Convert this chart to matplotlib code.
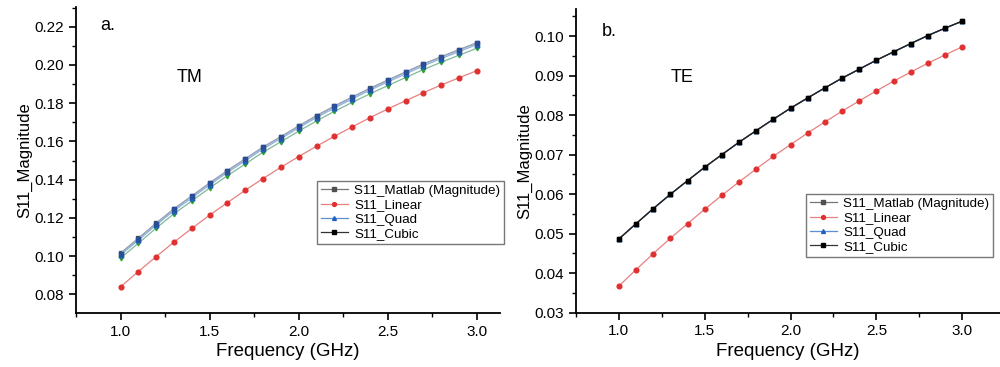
import matplotlib.pyplot as plt
from matplotlib.ticker import MultipleLocator, AutoMinorLocator

plt.rcParams['font.family'] = ['Liberation Sans', 'DejaVu Sans']

freq = [1.0, 1.1, 1.2, 1.3, 1.4, 1.5, 1.6, 1.7, 1.8, 1.9, 2.0,
        2.1, 2.2, 2.3, 2.4, 2.5, 2.6, 2.7, 2.8, 2.9, 3.0]

# TM (panel a)
tm_matlab = [0.1016, 0.1094, 0.1173, 0.1248, 0.1315, 0.1383, 0.1448, 0.1509, 0.1571, 0.1625, 0.1681,
             0.1735, 0.1785, 0.1832, 0.1878, 0.1921, 0.1963, 0.2005, 0.2043, 0.2080, 0.2116]
tm_linear = [0.0840, 0.0920, 0.0998, 0.1074, 0.1145, 0.1215, 0.1280, 0.1345, 0.1406, 0.1465, 0.1521,
             0.1575, 0.1627, 0.1676, 0.1724, 0.1770, 0.1813, 0.1855, 0.1895, 0.1933, 0.1970]
tm_quad = [0.1006, 0.1084, 0.1163, 0.1238, 0.1305, 0.1373, 0.1438, 0.1499, 0.1561, 0.1615, 0.1671,
           0.1725, 0.1775, 0.1822, 0.1868, 0.1911, 0.1953, 0.1995, 0.2033, 0.2070, 0.2106]
tm_cubic = [0.1014, 0.1092, 0.1171, 0.1246, 0.1314, 0.1381, 0.1446, 0.1508, 0.1569, 0.1624, 0.1679,
            0.1733, 0.1783, 0.1830, 0.1876, 0.1919, 0.1961, 0.2003, 0.2041, 0.2078, 0.2114]
tm_extra = [0.0990, 0.1068, 0.1147, 0.1222, 0.1289, 0.1357, 0.1421, 0.1482, 0.1544, 0.1598, 0.1654,
            0.1707, 0.1757, 0.1804, 0.1849, 0.1892, 0.1934, 0.1976, 0.2014, 0.2051, 0.2087]

# TE (panel b)
te_cubic = [0.04866, 0.05253, 0.05633, 0.05997, 0.06342, 0.06681, 0.07000, 0.07314, 0.07608, 0.07896, 0.08175,
            0.08435, 0.08689, 0.08934, 0.09162, 0.09390, 0.09600, 0.09810, 0.10013, 0.10200, 0.10377]
te_matlab = [0.04866, 0.05253, 0.05633, 0.05997, 0.06342, 0.06681, 0.07000, 0.07314, 0.07608, 0.07896, 0.08175,
             0.08435, 0.08689, 0.08934, 0.09162, 0.09390, 0.09600, 0.09810, 0.10013, 0.10200, 0.10377]
te_quad = [0.04866, 0.05253, 0.05633, 0.05997, 0.06342, 0.06681, 0.07000, 0.07314, 0.07608, 0.07896, 0.08175,
           0.08435, 0.08689, 0.08934, 0.09162, 0.09390, 0.09600, 0.09810, 0.10013, 0.10200, 0.10377]
te_linear = [0.03676, 0.04089, 0.04494, 0.04884, 0.05253, 0.05618, 0.05972, 0.06309, 0.06638, 0.06959, 0.07253,
             0.07549, 0.07828, 0.08099, 0.08359, 0.08613, 0.08858, 0.09086, 0.09314, 0.09524, 0.09727]

names = ['S11_Matlab (Magnitude)', 'S11_Linear', 'S11_Quad', 'S11_Cubic']

fig = plt.figure(figsize=(10, 3.67), dpi=100)
ax1 = fig.add_axes([0.076, 0.147, 0.424, 0.834])
ax2 = fig.add_axes([0.576, 0.148, 0.424, 0.827])


def style(ax):
    for s in ['top', 'right']:
        ax.spines[s].set_visible(False)
    for s in ['left', 'bottom']:
        ax.spines[s].set_linewidth(1.3)
    ax.xaxis.set_major_locator(MultipleLocator(0.5))
    ax.xaxis.set_minor_locator(AutoMinorLocator(2))
    ax.yaxis.set_minor_locator(AutoMinorLocator(2))
    ax.tick_params(which='major', direction='out', length=5, width=1.2, labelsize=11)
    ax.tick_params(which='minor', direction='out', length=3, width=1.0)
    ax.set_xlabel('Frequency (GHz)', fontsize=13.5, labelpad=3)
    ax.set_ylabel('S11_Magnitude', fontsize=12, labelpad=2)


mk = dict(markersize=3.4, linewidth=0.9)
mk_leg = dict(markersize=2.8, linewidth=0.9)

# panel a
ax1.plot(freq, tm_extra, color='#7fb89a', marker='v', mfc='#2ca02c', mec='#2ca02c', **mk)
ax1.plot(freq, tm_quad, color='#8fb3d9', marker='^', mfc='#1f5fbf', mec='#1f5fbf', **mk)
ax1.plot(freq, tm_matlab, color='#8a8a8a', marker='s', mfc='#505050', mec='#505050', **mk)
ax1.plot(freq, tm_cubic, color='#9aaccc', marker='s', mfc='#2a4f9a', mec='#2a4f9a', **mk)
ax1.plot(freq, tm_linear, color='#e88080', marker='o', mfc='#e03030', mec='#e03030', **mk)

# panel b
ax2.plot(freq, te_linear, color='#e88080', marker='o', mfc='#e03030', mec='#e03030', **mk)
ax2.plot(freq, te_quad, color='#1f5fbf', marker='^', mfc='#1f5fbf', mec='#1f5fbf', **mk)
ax2.plot(freq, te_matlab, color='#505050', marker='s', mfc='#505050', mec='#505050', **mk)
ax2.plot(freq, te_cubic, color='#222222', marker='s', mfc='black', mec='black', **mk)

legend_corner = {ax1: (317 / 1000, 1 - 244 / 367), ax2: (806 / 1000, 1 - 257 / 367)}

for ax in (ax1, ax2):
    style(ax)
    h = [plt.Line2D([], [], color='#777777', marker='s', mfc='#505050', mec='#505050', **mk_leg),
         plt.Line2D([], [], color='#e88080', marker='o', mfc='#e03030', mec='#e03030', **mk_leg),
         plt.Line2D([], [], color='#5a8fd0', marker='^', mfc='#1f5fbf', mec='#1f5fbf', **mk_leg),
         plt.Line2D([], [], color='#333333', marker='s', mfc='black', mec='black', **mk_leg)]
    leg = ax.legend(h, names, fontsize=9.6, frameon=True, fancybox=False,
                    edgecolor='#777777', framealpha=1, handlelength=2.0,
                    handletextpad=0.5, borderpad=0.3, labelspacing=0.15,
                    borderaxespad=0, loc='lower left',
                    bbox_to_anchor=legend_corner[ax], bbox_transform=fig.transFigure)
    leg.get_frame().set_linewidth(1.0)

ax1.set_xlim(0.75, 3.13)
ax1.set_ylim(0.0703, 0.2303)
ax1.yaxis.set_major_locator(MultipleLocator(0.02))
ax1.text(0.057, 0.941, 'a.', transform=ax1.transAxes, fontsize=13, va='center')
ax1.text(0.238, 0.771, 'TM', transform=ax1.transAxes, fontsize=13, va='center')

ax2.set_xlim(0.75, 3.22)
ax2.set_ylim(0.03, 0.1068)
ax2.yaxis.set_major_locator(MultipleLocator(0.01))
ax2.text(0.061, 0.928, 'b.', transform=ax2.transAxes, fontsize=13, va='center')
ax2.text(0.222, 0.776, 'TE', transform=ax2.transAxes, fontsize=13, va='center')

fig.savefig('out.png', dpi=100)
